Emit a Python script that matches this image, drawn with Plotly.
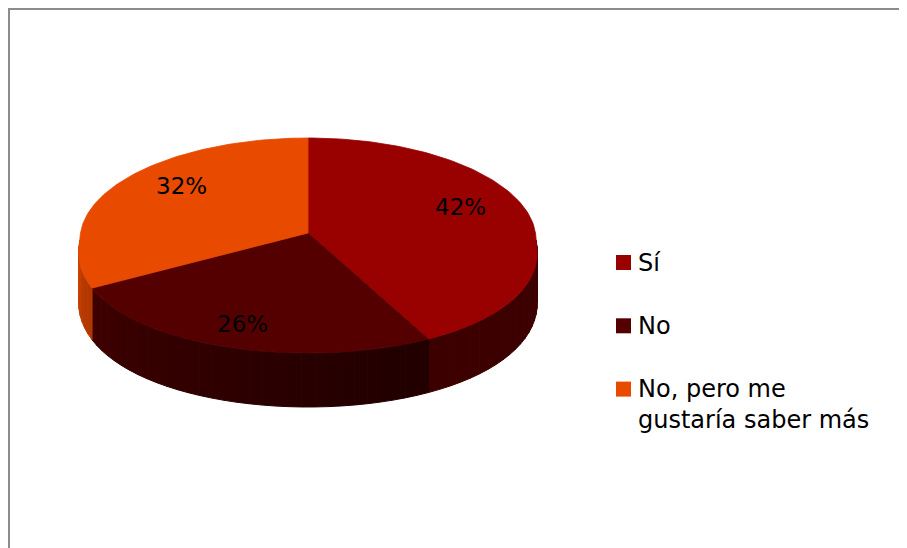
import numpy as np
import plotly.graph_objects as go

# ---- data ----
labels = ["Sí", "No", "No, pero me gustaría saber más"]
legend_text = ["Sí", "No", "No, pero me<br>gustaría saber más"]
values = [42, 26, 32]

# ---- style ----
top_colors = ["#990000", "#550000", "#E84A00"]
FONT = "DejaVu Sans"
PAGE_OFF = 8  # default body margin of the html page

# ---- 3D-ish pie geometry (pixel space) ----
CX, CY = 308, 240
RX, RY_BACK, RY_FRONT = 228, 102, 113
VX, VY = 308, 233
PERSP = 0.11  # front of the disc appears slightly wider


def ex(th):
    return CX + RX * np.sin(th) * (1 + PERSP * np.maximum(0, -np.cos(th)))


def ey(th):
    c = np.cos(th)
    return CY - np.where(c > 0, RY_BACK, RY_FRONT) * c


def thick(th):
    return 50 + 4 * np.maximum(0, -np.cos(th))


def shade(hex_color, f):
    h = hex_color.lstrip("#")
    r, g, b = (int(h[i:i + 2], 16) for i in (0, 2, 4))
    return "rgb({},{},{})".format(int(r * f), int(g * f), int(b * f))


def side_factor(th_deg):
    t = np.clip((th_deg - 150) / 120.0, 0, 1)
    return 0.4 + 0.48 * t ** 1.3


total = float(sum(values))
bounds = np.concatenate([[0], np.cumsum(values)]) / total * 2 * np.pi

fig = go.Figure()

# sides (front half only)
for i, col in enumerate(top_colors):
    a0, a1 = bounds[i], bounds[i + 1]
    s0, s1 = max(a0, np.pi / 2), min(a1, 3 * np.pi / 2)
    if s1 <= s0:
        continue
    n = max(2, int(np.degrees(s1 - s0) / 3))
    edges = np.linspace(s0, s1, n + 1)
    for k in range(n):
        th = np.linspace(edges[k], edges[k + 1], 6)
        xt, yt = ex(th), ey(th)
        yb = yt + thick(th)
        xs = np.concatenate([xt, xt[::-1], xt[:1]])
        ys = np.concatenate([yt, yb[::-1], yt[:1]])
        c = shade(col, side_factor(np.degrees((edges[k] + edges[k + 1]) / 2)))
        fig.add_trace(go.Scatter(x=xs, y=ys, mode="lines", fill="toself",
                                 fillcolor=c, line=dict(color=c, width=1),
                                 hoverinfo="skip", showlegend=False))

# top faces
for i, col in enumerate(top_colors):
    a0, a1 = bounds[i], bounds[i + 1]
    th = np.linspace(a0, a1, 120)
    xs = np.concatenate([[VX], ex(th), [VX]])
    ys = np.concatenate([[VY], ey(th), [VY]])
    fig.add_trace(go.Scatter(x=xs, y=ys, mode="lines", fill="toself",
                             fillcolor=col, line=dict(color=col, width=0.8),
                             name=labels[i], hoverinfo="skip", showlegend=False))

# percentage labels
annotations = []
for i, v in enumerate(values):
    mid = (bounds[i] + bounds[i + 1]) / 2
    c = np.cos(mid)
    f = 0.69 + 0.25 * max(0.0, -c)
    ry = RY_BACK if c > 0 else RY_FRONT
    lx = CX + f * RX * np.sin(mid) + (6 if np.sin(mid) < -0.6 else 0)
    ly = CY - f * ry * c - 16
    annotations.append(dict(x=lx, y=ly, xref="x", yref="y", text=f"{v:.0f}%",
                            showarrow=False, font=dict(family=FONT, size=23, color="#000000"),
                            xanchor="center", yanchor="middle"))

# legend
shapes = []
LEG_X, LEG_Y0, LEG_DY = 616, 262.5, 63.3
for i, col in enumerate(top_colors):
    yc = LEG_Y0 + i * LEG_DY
    shapes.append(dict(type="rect", xref="x", yref="y", x0=LEG_X, x1=LEG_X + 15,
                       y0=yc - 7.5, y1=yc + 7.5, fillcolor=col, line=dict(width=0)))
    if "<br>" in legend_text[i]:
        annotations.append(dict(x=LEG_X + 20, y=yc - 16, xref="x", yref="y",
                                text=legend_text[i], showarrow=False, align="left",
                                font=dict(family=FONT, size=24, color="#000000"),
                                xanchor="left", yanchor="top"))
    else:
        annotations.append(dict(x=LEG_X + 20, y=yc, xref="x", yref="y",
                                text=legend_text[i], showarrow=False, align="left",
                                font=dict(family=FONT, size=24, color="#000000"),
                                xanchor="left", yanchor="middle"))

# chart-area frame
shapes.append(dict(type="rect", xref="x", yref="y", x0=9, x1=960,
                   y0=9, y1=600, line=dict(color="#8C8C8C", width=2),
                   fillcolor="rgba(0,0,0,0)", layer="below"))

fig.update_layout(
    width=907, height=548,
    margin=dict(l=0, r=0, t=0, b=0),
    paper_bgcolor="white", plot_bgcolor="white",
    xaxis=dict(range=[PAGE_OFF, 907 + PAGE_OFF], visible=False, fixedrange=True),
    yaxis=dict(range=[548 + PAGE_OFF, PAGE_OFF], visible=False, fixedrange=True),
    showlegend=False,
    shapes=shapes,
    annotations=annotations,
)

fig.write_html("out.html")
